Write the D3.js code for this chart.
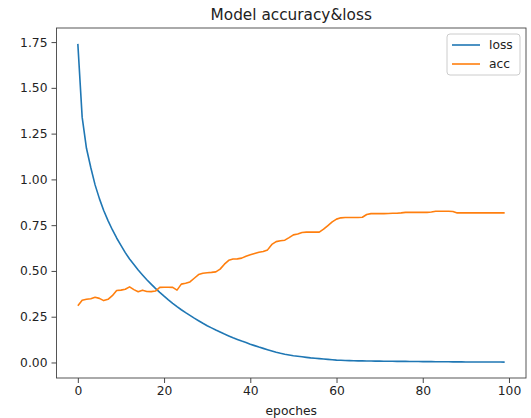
<!DOCTYPE html>
<html>
<head>
<meta charset="utf-8">
<script src="https://d3js.org/d3.v7.min.js"></script>
<style>
  body { margin: 0; background: #fff; }
  text { font-family: "DejaVu Sans", sans-serif; fill: #222; }
</style>
</head>
<body>
<div id="chart"></div>
<script>
// data
var epochs = d3.range(0, 100);

var loss = [1.74, 1.34, 1.17, 1.065, 0.97, 0.895, 0.83, 0.775, 0.725, 0.68,
            0.64, 0.60, 0.565, 0.535, 0.505, 0.478, 0.452, 0.428, 0.405, 0.383,
            0.362, 0.342, 0.323, 0.305, 0.288, 0.272, 0.257, 0.242, 0.228, 0.214,
            0.201, 0.189, 0.177, 0.166, 0.155, 0.145, 0.135, 0.126, 0.117, 0.109,
            0.100, 0.092, 0.084, 0.077, 0.070, 0.063, 0.056, 0.050, 0.045, 0.041,
            0.037, 0.034, 0.031, 0.028, 0.025, 0.023, 0.021, 0.019, 0.017, 0.015,
            0.013, 0.012, 0.011, 0.010, 0.0095, 0.009, 0.0085, 0.008, 0.0078, 0.0075,
            0.0072, 0.007, 0.0068, 0.0065, 0.0062, 0.006, 0.0058, 0.0055, 0.0053, 0.005,
            0.0048, 0.0046, 0.0044, 0.0042, 0.004, 0.0038, 0.0036, 0.0035, 0.0033, 0.0032,
            0.003, 0.0029, 0.0028, 0.0027, 0.0026, 0.0025, 0.0024, 0.0023, 0.0022, 0.0021];

var acc = [0.310, 0.340, 0.345, 0.348, 0.356, 0.350, 0.338, 0.345, 0.365, 0.393,
           0.395, 0.400, 0.413, 0.398, 0.386, 0.395, 0.388, 0.387, 0.390, 0.410,
           0.411, 0.411, 0.410, 0.395, 0.428, 0.433, 0.440, 0.460, 0.480, 0.487,
           0.490, 0.492, 0.495, 0.510, 0.537, 0.558, 0.565, 0.566, 0.570, 0.580,
           0.588, 0.595, 0.602, 0.606, 0.615, 0.645, 0.660, 0.665, 0.668, 0.682,
           0.697, 0.702, 0.710, 0.712, 0.712, 0.712, 0.712, 0.728, 0.748, 0.768,
           0.783, 0.790, 0.792, 0.792, 0.792, 0.792, 0.793, 0.808, 0.813, 0.813,
           0.813, 0.813, 0.814, 0.815, 0.815, 0.817, 0.820, 0.820, 0.820, 0.820,
           0.820, 0.820, 0.822, 0.826, 0.826, 0.826, 0.826, 0.825, 0.817, 0.817,
           0.817, 0.817, 0.817, 0.817, 0.817, 0.817, 0.817, 0.817, 0.817, 0.817];

var xTicks = [0, 20, 40, 60, 80, 100];
var yTicks = [0, 0.25, 0.5, 0.75, 1.0, 1.25, 1.5, 1.75];
var seriesNames = ["loss", "acc"];
var colors = ["#1f77b4", "#ff7f0e"];

// settings
var margin = {top: 28, right: 5, bottom: 40, left: 56.5},
    width = 531 - margin.left - margin.right,
    height = 418 - margin.top - margin.bottom;

var svg = d3.select("#chart")
    .append("svg")
    .attr("width", 531)
    .attr("height", 418)
    .append("g")
    .attr("transform", "translate(" + margin.left + "," + margin.top + ")");

// matplotlib style 5% padding
var xPad = (d3.max(epochs) - d3.min(epochs)) * 0.05;
var x = d3.scaleLinear()
    .domain([d3.min(epochs) - xPad, d3.max(epochs) + xPad])
    .range([0, width]);

var yMin = Math.min(d3.min(loss), d3.min(acc)),
    yMax = Math.max(d3.max(loss), d3.max(acc)),
    yPad = (yMax - yMin) * 0.05;
var y = d3.scaleLinear()
    .domain([yMin - yPad, yMax + yPad])
    .range([height, 0]);

var xAxis = svg.append("g")
    .attr("transform", "translate(0," + height + ")")
    .call(d3.axisBottom(x).tickValues(xTicks).tickFormat(d3.format("d")).tickSize(5).tickPadding(3));

var yAxis = svg.append("g")
    .call(d3.axisLeft(y).tickValues(yTicks).tickFormat(d3.format(".2f")).tickSize(5).tickPadding(4));

[xAxis, yAxis].forEach(function (a) {
    a.select(".domain").remove();
    a.selectAll("line").attr("stroke", "#333").attr("stroke-width", 0.9);
    a.selectAll("text").attr("font-size", "12.3px").attr("fill", "#222")
        .style("font-family", "'DejaVu Sans', sans-serif");
});

// lines
var series = [loss, acc];
var line = d3.line()
    .x(function (d, i) { return x(epochs[i]); })
    .y(function (d) { return y(d); });

svg.append("g")
    .selectAll("path")
    .data(series)
    .enter()
    .append("path")
    .attr("d", line)
    .attr("fill", "none")
    .attr("stroke", function (d, i) { return colors[i]; })
    .attr("stroke-width", 1.6)
    .attr("stroke-linejoin", "round");

// frame
svg.append("rect")
    .attr("width", width)
    .attr("height", height)
    .attr("fill", "none")
    .attr("stroke", "#444")
    .attr("stroke-width", 0.9);

// title and label
svg.append("text")
    .attr("x", width / 2)
    .attr("y", -8)
    .attr("text-anchor", "middle")
    .attr("font-size", "15.3px")
    .text("Model accuracy&loss");

svg.append("text")
    .attr("x", width / 2)
    .attr("y", height + 37)
    .attr("text-anchor", "middle")
    .attr("font-size", "12.3px")
    .text("epoches");

// legend
var legend = svg.append("g")
    .attr("transform", "translate(" + (width - 79) + ",6)");

legend.append("rect")
    .attr("width", 73)
    .attr("height", 41)
    .attr("rx", 3)
    .attr("fill", "#fff")
    .attr("fill-opacity", 0.8)
    .attr("stroke", "#ccc")
    .attr("stroke-width", 1);

var items = legend.selectAll(".item")
    .data(seriesNames)
    .enter()
    .append("g")
    .attr("transform", function (d, i) { return "translate(0," + (11 + i * 19) + ")"; });

items.append("line")
    .attr("x1", 5)
    .attr("x2", 33)
    .attr("stroke", function (d, i) { return colors[i]; })
    .attr("stroke-width", 1.6);

items.append("text")
    .attr("x", 42)
    .attr("dy", "0.35em")
    .attr("font-size", "12.3px")
    .text(function (d) { return d; });
</script>
</body>
</html>
